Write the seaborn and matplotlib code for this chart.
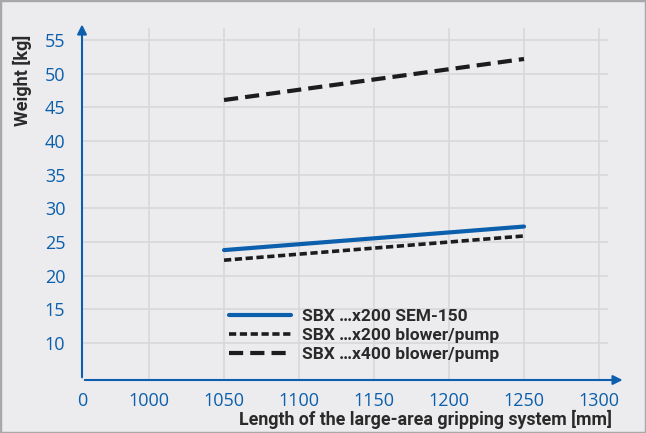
import numpy as np
import pandas as pd
import matplotlib
matplotlib.use("Agg")
import matplotlib.pyplot as plt
import seaborn as sns

lengths = [1050, 1250]
sem150_x200 = [23.8, 27.3]
blower_x200 = [22.3, 25.9]
blower_x400 = [46.1, 52.2]
series_names = ["SBX \u2026x200 SEM-150", "SBX \u2026x200 blower/pump", "SBX \u2026x400 blower/pump"]

x_ticks = [1000, 1050, 1100, 1150, 1200, 1250, 1300]
y_ticks = [10, 15, 20, 25, 30, 35, 40, 45, 50, 55]

bg = "#ececee"
blue = "#0b5fac"
ink = "#1c1c1c"

sns.set_style("whitegrid", {"axes.facecolor": bg, "figure.facecolor": bg,
                            "grid.color": "#d8d8da", "axes.edgecolor": bg})
plt.rcParams["font.family"] = ["Roboto", "DejaVu Sans"]

df = pd.DataFrame({
    "length": lengths * 3,
    "weight": sem150_x200 + blower_x200 + blower_x400,
    "series": [series_names[0]] * 2 + [series_names[1]] * 2 + [series_names[2]] * 2,
})

fig = plt.figure(figsize=(6.46, 4.33), dpi=100)
ax = fig.add_axes([82 / 646, 1 - 380 / 433, (608 - 82) / 646, (380 - 28) / 433])

styles = [(blue, "-", 3.0, None), (ink, "--", 2.6, (2.0, 1.0)), (ink, "--", 3.0, (3.4, 1.7))]
for name, (col, ls, lw, dash) in zip(series_names, styles):
    sub = df[df["series"] == name]
    sns.lineplot(data=sub, x="length", y="weight", ax=ax, color=col,
                 linewidth=lw, label=name)
    if dash is not None:
        ax.lines[-1].set_dashes(dash)

ax.set_xlim(955.3, 1306)
ax.set_ylim(4.5, 56.8)
ax.set_xticks([955.3] + x_ticks)
ax.set_xticklabels(["0"] + [str(t) for t in x_ticks])
ax.set_yticks(y_ticks)
ax.tick_params(axis="both", colors=blue, length=0)
ax.tick_params(axis="x", pad=9)
ax.tick_params(axis="y", pad=12)
for lab in ax.get_xticklabels() + ax.get_yticklabels():
    lab.set_family(["Open Sans", "DejaVu Sans"])
    lab.set_fontsize(13)
ax.grid(True, linewidth=1.2)
for s in ax.spines.values():
    s.set_visible(False)

# axes with arrow heads
ax.annotate("", xy=(1.033, 0), xytext=(0, 0), xycoords="axes fraction",
            arrowprops=dict(arrowstyle="-|>", color=blue, lw=1.5, mutation_scale=14))
ax.annotate("", xy=(0, 1.018), xytext=(0, 0), xycoords="axes fraction",
            arrowprops=dict(arrowstyle="-|>", color=blue, lw=1.5, mutation_scale=14))

ax.set_xlabel("Length of the large-area gripping system [mm]", fontsize=12.8,
              fontweight="bold", color="#2a2a2a", loc="right")
ax.set_ylabel("Weight [kg]", fontsize=13, fontweight="bold", color="#2a2a2a", loc="top")
ax.xaxis.set_label_coords(1.008, -0.085)
ax.yaxis.set_label_coords(-0.095, 0.98)

leg = ax.legend(loc="upper left", bbox_to_anchor=((220 - 82) / 526, (380 - 300) / 352),
                frameon=False, borderpad=0, handlelength=3.6, handletextpad=0.6,
                labelspacing=0.22, prop={"weight": "bold", "size": 12.5})
for t in leg.get_texts():
    t.set_color("#2a2a2a")

fig.patches.append(plt.Rectangle((0, 0), 1, 1, transform=fig.transFigure, fill=False,
                                 edgecolor="#a8a8a8", linewidth=2.5))

fig.savefig("out.png", dpi=100)
